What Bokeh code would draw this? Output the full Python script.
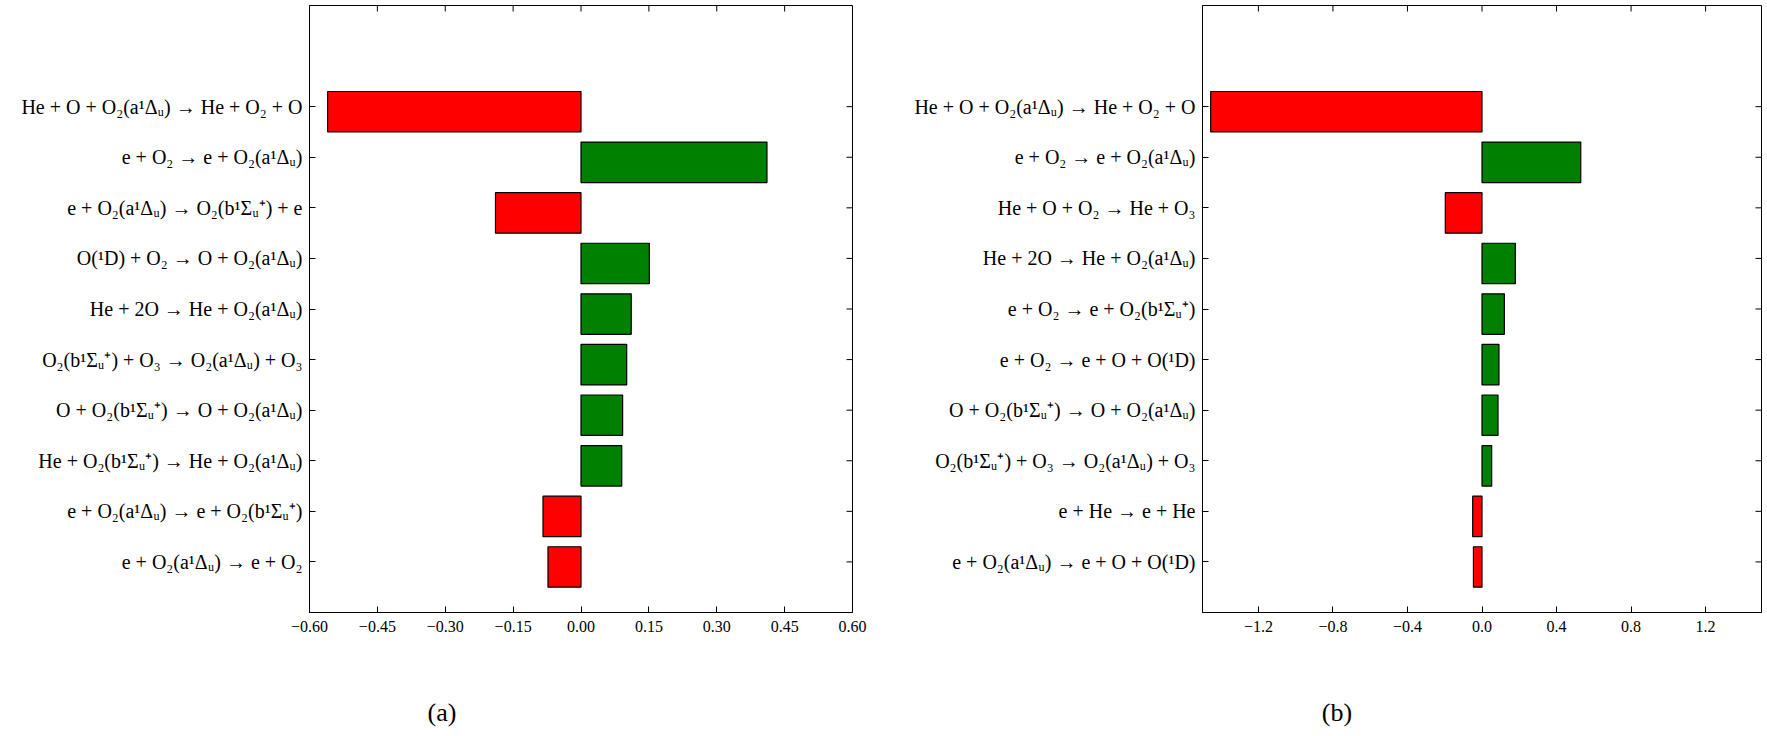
import math
from bokeh.plotting import figure
from bokeh.models import Range1d, FixedTicker, Div, ColumnDataSource
from bokeh.layouts import row, column
from bokeh.embed import file_html
from bokeh.resources import INLINE

# ---------------- data ----------------
labels_a = [
    "He + O + O₂(a¹Δᵤ) → He + O₂ + O",
    "e + O₂ → e + O₂(a¹Δᵤ)",
    "e + O₂(a¹Δᵤ) → O₂(b¹Σᵤ⁺) + e",
    "O(¹D) + O₂ → O + O₂(a¹Δᵤ)",
    "He + 2O → He + O₂(a¹Δᵤ)",
    "O₂(b¹Σᵤ⁺) + O₃ → O₂(a¹Δᵤ) + O₃",
    "O + O₂(b¹Σᵤ⁺) → O + O₂(a¹Δᵤ)",
    "He + O₂(b¹Σᵤ⁺) → He + O₂(a¹Δᵤ)",
    "e + O₂(a¹Δᵤ) → e + O₂(b¹Σᵤ⁺)",
    "e + O₂(a¹Δᵤ) → e + O₂",
]
values_a = [-0.560, 0.411, -0.189, 0.151, 0.111, 0.101, 0.092, 0.090, -0.084, -0.073]

labels_b = [
    "He + O + O₂(a¹Δᵤ) → He + O₂ + O",
    "e + O₂ → e + O₂(a¹Δᵤ)",
    "He + O + O₂ → He + O₃",
    "He + 2O → He + O₂(a¹Δᵤ)",
    "e + O₂ → e + O₂(b¹Σᵤ⁺)",
    "e + O₂ → e + O + O(¹D)",
    "O + O₂(b¹Σᵤ⁺) → O + O₂(a¹Δᵤ)",
    "O₂(b¹Σᵤ⁺) + O₃ → O₂(a¹Δᵤ) + O₃",
    "e + He → e + He",
    "e + O₂(a¹Δᵤ) → e + O + O(¹D)",
]
values_b = [-1.456, 0.530, -0.197, 0.179, 0.120, 0.091, 0.086, 0.052, -0.050, -0.046]

xticks_a = [-0.60, -0.45, -0.30, -0.15, 0.00, 0.15, 0.30, 0.45, 0.60]
xticks_b = [-1.2, -0.8, -0.4, 0.0, 0.4, 0.8, 1.2]
xrange_a = (-0.6, 0.6)
xrange_b = (-1.5, 1.5)
captions = ["(a)", "(b)"]

FONT = "Liberation Serif"
NEG = "#ff0000"
POS = "#008000"
FRAME_H = 607


def fmt_tick(t, nd):
    s = f"{abs(t):.{nd}f}"
    return ("−" + s) if t < -1e-12 else s


def style_axis(ax):
    ax.axis_line_color = "black"
    ax.axis_line_width = 1
    ax.major_tick_in = 6
    ax.major_tick_out = 0
    ax.major_tick_line_color = "black"
    ax.major_tick_line_width = 1
    ax.minor_tick_line_color = None


def make_panel(labels, values, xr, xticks, nd, frame_w, bl, br):
    n = len(labels)
    tick_pos = [n - 1 - i for i in range(n)]
    ytop = n + 1
    src = ColumnDataSource(dict(
        y=[t - 0.1 for t in tick_pos],
        right=values,
        left=[0.0] * n,
        color=[NEG if v < 0 else POS for v in values],
    ))
    p = figure(x_range=Range1d(*xr), y_range=Range1d(-1, ytop),
               frame_width=frame_w, frame_height=FRAME_H,
               output_backend="svg", toolbar_location=None,
               min_border_left=bl, min_border_right=br,
               min_border_top=5, min_border_bottom=82)
    p.grid.visible = False
    p.outline_line_color = "black"
    p.outline_line_width = 1
    p.background_fill_color = "white"
    p.border_fill_color = "white"

    p.hbar(y="y", left="left", right="right", height=0.8, source=src,
           fill_color="color", line_color="black", line_width=1.2)

    # inward ticks on the top and right frame edges (mirror of the axes)
    p.ray(x=xticks, y=[ytop] * len(xticks), length=6, length_units="screen",
          angle=-math.pi / 2, line_color="black", line_width=1)
    p.ray(x=[xr[1]] * n, y=tick_pos, length=6, length_units="screen",
          angle=math.pi, line_color="black", line_width=1)

    xa = p.xaxis[0]
    xa.ticker = FixedTicker(ticks=xticks)
    xa.major_label_overrides = {t: fmt_tick(t, nd) for t in xticks}
    xa.major_label_text_font = FONT
    xa.major_label_text_font_size = "16px"
    xa.major_label_text_color = "black"
    xa.major_label_standoff = 8
    style_axis(xa)

    ya = p.yaxis[0]
    ya.ticker = FixedTicker(ticks=tick_pos)
    ya.major_label_overrides = {tick_pos[i]: labels[i] for i in range(n)}
    ya.major_label_text_font = FONT
    ya.major_label_text_font_size = "20px"
    ya.major_label_text_color = "black"
    ya.major_label_standoff = 7
    style_axis(ya)
    return p


BL1, FW1, BR1 = 309, 543, 20
BL2, FW2, BR2 = 330, 559, 4
p1 = make_panel(labels_a, values_a, xrange_a, xticks_a, 2, FW1, BL1, BR1)
p2 = make_panel(labels_b, values_b, xrange_b, xticks_b, 1, FW2, BL2, BR2)

w1 = BL1 + FW1 + BR1
w2 = BL2 + FW2 + BR2


def caption(txt, width, pad):
    html = (f'<div style="width:{width}px;box-sizing:border-box;padding-left:{pad}px;'
            f'text-align:center;font-family:\'{FONT}\';font-size:26px;color:black;">{txt}</div>')
    return Div(text=html, width=width, height=36, margin=0)


layout = row(column(p1, caption(captions[0], w1, 12)),
             column(p2, caption(captions[1], w2, 37)))

open("out.html", "w").write(file_html(layout, INLINE))
